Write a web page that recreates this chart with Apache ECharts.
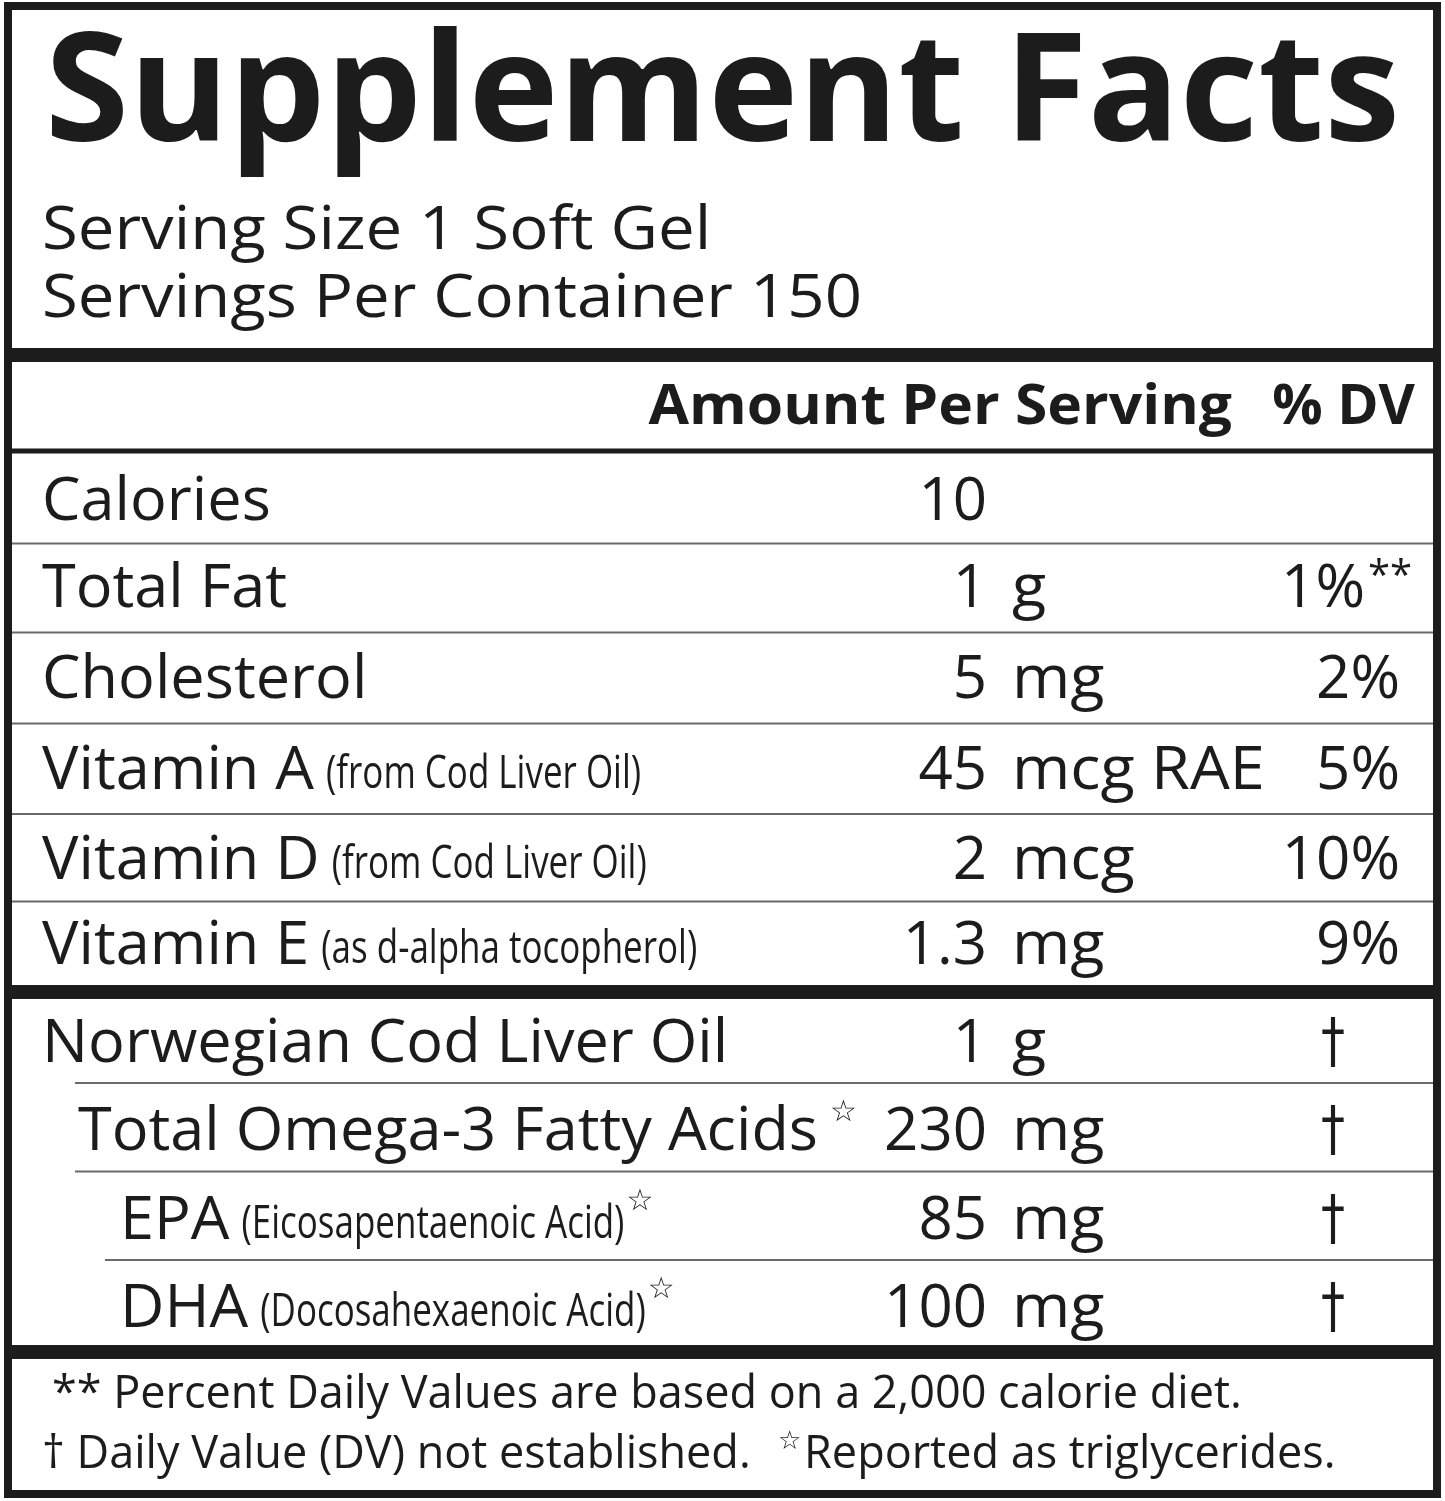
<!DOCTYPE html>
<html><head><meta charset="utf-8">
<script src="https://cdn.jsdelivr.net/npm/echarts@6/dist/echarts.min.js"></script>
<style>html,body{margin:0;padding:0;background:#fff}#c{width:1445px;height:1501px}</style>
</head><body><div id="c"></div>
<script>
const title = 'Supplement Facts';
const servingLines = ['Serving Size 1 Soft Gel', 'Servings Per Container 150'];
const headers = ['Amount Per Serving', '% DV'];
const names = ['Calories','Total Fat','Cholesterol','Vitamin A','Vitamin D','Vitamin E','Norwegian Cod Liver Oil','Total Omega-3 Fatty Acids','EPA','DHA'];
const notes = ['','','','(from Cod Liver Oil)','(from Cod Liver Oil)','(as d-alpha tocopherol)','','','(Eicosapentaenoic Acid)','(Docosahexaenoic Acid)'];
const starred = [false,false,false,false,false,false,false,true,true,true];
const amounts = ['10','1','5','45','2','1.3','1','230','85','100'];
const units = ['','g','mg','mcg RAE','mcg','mg','g','mg','mg','mg'];
const dvs = ['','1%**','2%','5%','10%','9%','†','†','†','†'];
const indent = [0,0,0,0,0,0,0,1,2,2];
const footnotes = ['** Percent Daily Values are based on a 2,000 calorie diet.', '† Daily Value (DV) not established.  ', '☆', 'Reported as triglycerides.'];

const INK = '#1c1c1c';
const REG = 'Open Sans';
const cv = document.createElement('canvas').getContext('2d');
function w(text, font){ cv.font = font; return cv.measureText(text).width; }
const SX = 1.0;
const G = [];
function txt(x, y, text, size, opt){
  opt = opt || {};
  const fam = opt.family || REG, wt = opt.weight || 'normal';
  const font = wt + ' ' + size + 'px "' + fam + '"';
  const sx = opt.sx || SX;
  G.push({type:'text', x:x, y:y, scaleX:sx, z:10,
    style:{text:text, font:font, fill:INK, align:opt.align||'left', verticalAlign:'middle'}});
  return w(text, font) * sx;
}
function hline(x1, x2, y, lw, color){
  G.push({type:'line', z:5, shape:{x1:x1,y1:y,x2:x2,y2:y}, style:{stroke:color||INK, lineWidth:lw}});
}
G.push({type:'rect', z:1, shape:{x:8,y:6,width:1429,height:1488}, style:{fill:'#fff', stroke:INK, lineWidth:8}});
const tFont = 'bold 150px "Open Sans"';
const tW = w(title, tFont);
txt(45, 98, title, 150, {weight:'bold', sx:1355/tW});
servingLines.forEach((s,i)=> txt(42, 232 + i*68, s, 61, {sx:1.07}));
hline(12, 1433, 355, 14);
txt(1232, 408, headers[0], 56, {weight:'bold', align:'right', sx:1.05});
txt(1415, 408, headers[1], 56, {weight:'bold', align:'right', sx:1.0});
hline(12, 1433, 451, 5);
const rowY = [503,590,681,772,862,947,1045,1133,1222,1310];
const indX = [42, 78, 120];
names.forEach((n,i)=>{
  const y = rowY[i];
  let x = indX[indent[i]];
  x += txt(x, y, n, 60, {sx:1.02}) + 12;
  if (notes[i]) x += txt(x, y + 3, notes[i], 46, {sx:0.76}) + 2;
  if (starred[i]) txt(x, y - 20, '☆', 30, {family:'DejaVu Sans', sx:1});
  txt(987, y, amounts[i], 60, {align:'right'});
  if (units[i]) txt(1012, y, units[i], 60, {sx:1.05});
  const d = dvs[i];
  if (d === '†') txt(1333, y, d, 60, {align:'center', family:'DejaVu Sans', sx:0.8});
  else if (d.endsWith('**')) { txt(1365, y, d.slice(0,-2), 60, {align:'right'}); txt(1368, y - 12, '**', 40); }
  else if (d) txt(1400, y, d, 60, {align:'right'});
  if (i < 5) hline(12, 1433, (rowY[i] + rowY[i+1]) / 2 - 3, 2, '#6a6a6a');
  if (i >= 6 && i < 9) hline(i === 8 ? 105 : 75, 1433, (rowY[i] + rowY[i+1]) / 2 - 6, 2, '#6a6a6a');
});
hline(12, 1433, 992, 14);
hline(12, 1433, 1352, 14);
txt(52, 1395, footnotes[0], 45);
let fx = 42 + txt(42, 1455, footnotes[1], 45);
txt(fx + 4, 1442, footnotes[2], 26, {family:'DejaVu Sans', sx:1});
txt(fx + 30, 1455, footnotes[3], 45);

const chart = echarts.init(document.getElementById('c'), null, {renderer:'canvas'});
chart.setOption({animation:false, graphic:{elements:G}});
</script></body></html>
